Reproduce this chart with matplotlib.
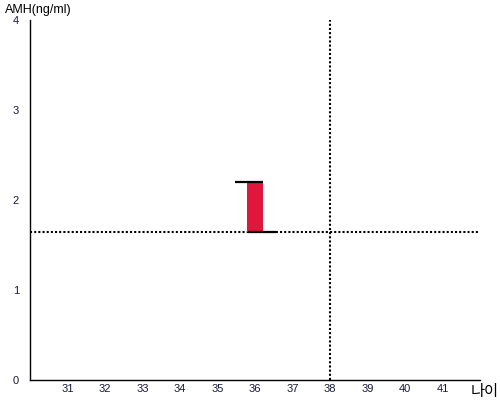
import matplotlib
matplotlib.use("Agg")
import matplotlib.pyplot as plt

plt.rcParams['font.family'] = ['Liberation Sans', 'Noto Sans CJK KR', 'DejaVu Sans']

# data
ages = [31, 32, 33, 34, 35, 36, 37, 38, 39, 40, 41]
bar_age = 36
bar_low = 1.64
bar_high = 2.2
ref_age = 38
ref_amh = 1.64

fig = plt.figure(figsize=(5, 4), dpi=100)
ax = fig.add_axes([0.06, 0.05, 0.90, 0.90])

# range bar
ax.bar([bar_age], [bar_high - bar_low], bottom=[bar_low], width=0.43,
       color="#e0173d", zorder=2)
ax.hlines(bar_high, bar_age - 0.52, bar_age + 0.22, color="black", lw=1.6, zorder=3)
ax.hlines(bar_low, bar_age - 0.2, bar_age + 0.55, color="black", lw=1.6, zorder=3)

# reference lines
ax.axvline(ref_age, color="black", lw=1.5, linestyle=(0, (1, 1)), zorder=1)
ax.axhline(ref_amh, color="black", lw=1.5, linestyle=(0, (1, 1)), zorder=1)

ax.set_xlim(30, 42)
ax.set_ylim(0, 4)
ax.set_xticks(ages)
ax.set_yticks([0, 1, 2, 3, 4])
ax.tick_params(length=0, labelsize=8, colors="#1a1a3a")
ax.tick_params(axis="x", pad=3)
ax.tick_params(axis="y", pad=8)

for s in ["top", "right"]:
    ax.spines[s].set_visible(False)
ax.spines["left"].set_linewidth(1)
ax.spines["bottom"].set_linewidth(1)

fig.text(0.01, 0.99, "AMH(ng/ml)", fontsize=9, va="top", ha="left")
fig.text(0.998, 0.0, "나이", fontsize=11, va="bottom", ha="right",
         family=['Noto Sans CJK KR', 'DejaVu Sans'])

fig.savefig("out.png", dpi=100)
